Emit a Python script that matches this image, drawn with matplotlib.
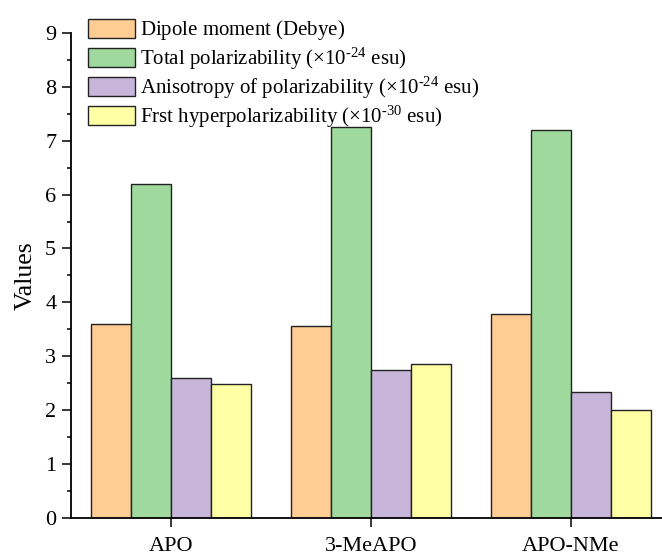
import numpy as np
from matplotlib import pyplot as plt
from matplotlib.ticker import MultipleLocator

plt.rcParams['font.family'] = ['Liberation Serif', 'DejaVu Serif']
plt.rcParams['mathtext.fontset'] = 'custom'
plt.rcParams['mathtext.rm'] = 'Liberation Serif'
plt.rcParams['mathtext.default'] = 'rm'

molecules = ['APO', '3-MeAPO', 'APO-NMe']
dipole = [3.60, 3.57, 3.78]
total_pol = [6.19, 7.25, 7.19]
aniso_pol = [2.60, 2.75, 2.34]
first_hyper = [2.48, 2.85, 2.00]

# the blank superscript on the first label keeps all legend rows the same height
labels = ['Dipole moment (Debye)$^{\\text{ }}$',
          'Total polarizability (×10$^{\\text{-24}}$ esu)',
          'Anisotropy of polarizability (×10$^{\\text{-24}}$ esu)',
          'Frst hyperpolarizability (×10$^{\\text{-30}}$ esu)']
colors = ['#FFCC93', '#9FD99D', '#C7B5DA', '#FFFFA6']

fig = plt.figure(figsize=(6.62, 5.55), dpi=100)
ax = fig.add_axes([0.107, 0.0667, 0.906, 0.874])

x = np.arange(len(molecules))
width = 0.2
series = [dipole, total_pol, aniso_pol, first_hyper]
for i, (vals, label, color) in enumerate(zip(series, labels, colors)):
    ax.bar(x + (i - 1.5) * width, vals, width, color=color, edgecolor='#222222',
           linewidth=1.0, label=label)

ax.set_xlim(-0.5, 2.5)
ax.set_ylim(0, 9)
ax.set_xticks(x)
ax.set_xticklabels(molecules)
ax.yaxis.set_major_locator(MultipleLocator(1))
ax.yaxis.set_minor_locator(MultipleLocator(0.5))
ax.tick_params(axis='both', which='major', direction='out', length=6.5, width=1.1, labelsize=16, pad=4)
ax.tick_params(axis='x', which='major', pad=7)
ax.tick_params(axis='y', which='minor', direction='out', length=3, width=1.1)
for side in ('top', 'right'):
    ax.spines[side].set_visible(False)
for side in ('left', 'bottom'):
    ax.spines[side].set_linewidth(1.3)
ax.set_ylabel('Values', fontsize=18.5, labelpad=6)

leg = ax.legend(loc='upper left', bbox_to_anchor=(0.015, 1.047), frameon=False, fontsize=15,
                handlelength=2.26, handleheight=1.03, handletextpad=0.25, labelspacing=0.14,
                borderaxespad=0)
leg.set_zorder(5)

fig.savefig('out.png', dpi=100)
